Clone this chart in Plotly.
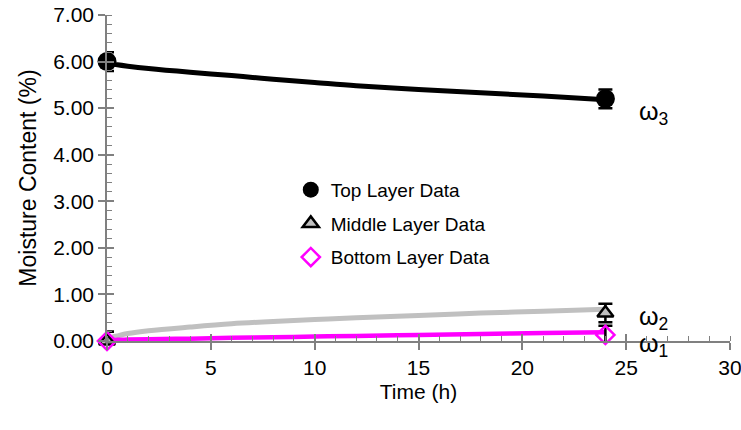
import plotly.graph_objects as go

# Measured data points
t_data = [0, 24]
top_data = [6.00, 5.20]
mid_data = [0.00, 0.60]
bot_data = [0.00, 0.13]
err_top = [0.20, 0.20]
err_mid = [0.20, 0.20]
err_bot = [0.20, 0.20]

# Model curves
t_curve = [0, 0.25, 0.5, 1, 2, 4, 6, 8, 10, 12, 15, 18, 21, 24]
top_curve = [6.00, 5.95, 5.93, 5.90, 5.85, 5.77, 5.70, 5.62, 5.55, 5.48, 5.40, 5.33, 5.26, 5.18]
mid_curve = [0.00, 0.08, 0.11, 0.16, 0.22, 0.30, 0.37, 0.42, 0.46, 0.50, 0.55, 0.60, 0.64, 0.68]
bot_curve = [0.00, 0.02, 0.025, 0.03, 0.04, 0.05, 0.07, 0.08, 0.095, 0.11, 0.13, 0.15, 0.17, 0.19]

x_ticks = [0, 5, 10, 15, 20, 25, 30]
y_ticks = [0, 1, 2, 3, 4, 5, 6, 7]

FONT = "Liberation Sans, Arial, sans-serif"

fig = go.Figure()

fig.add_trace(go.Scatter(x=t_curve, y=mid_curve, mode="lines", line=dict(color="#C0C0C0", width=5, shape="spline"),
                         showlegend=False, hoverinfo="skip"))
fig.add_trace(go.Scatter(x=t_curve, y=bot_curve, mode="lines", line=dict(color="#FF00FF", width=4.5, shape="spline"),
                         showlegend=False, hoverinfo="skip"))
fig.add_trace(go.Scatter(x=t_curve, y=top_curve, mode="lines", line=dict(color="black", width=5, shape="spline"),
                         showlegend=False, hoverinfo="skip"))

fig.add_trace(go.Scatter(x=t_data, y=top_data, mode="markers", name="Top Layer Data", legendgroup="a",
                         marker=dict(symbol="circle", size=19, color="black"),
                         error_y=dict(type="data", array=err_top, color="black", thickness=2.5, width=7),
                         cliponaxis=False))
fig.add_trace(go.Scatter(x=t_data, y=mid_data, mode="markers", name="Middle Layer Data", legendgroup="b",
                         marker=dict(symbol="triangle-up", size=14, color="#C0C0C0", line=dict(color="black", width=2.5)),
                         error_y=dict(type="data", array=err_mid, color="black", thickness=2.5, width=7),
                         cliponaxis=False))
fig.add_trace(go.Scatter(x=t_data, y=bot_data, mode="markers", name="Bottom Layer Data", legendgroup="c",
                         marker=dict(symbol="diamond-open", size=14, color="#FF00FF", line=dict(color="#FF00FF", width=2.5)),
                         error_y=dict(type="data", array=err_bot, color="black", thickness=2.5, width=7),
                         cliponaxis=False))

# invisible trace on overlay axes so inward major ticks are drawn (crossing tick style)
fig.add_trace(go.Scatter(x=[None], y=[None], xaxis="x2", yaxis="y2", showlegend=False, hoverinfo="skip"))

ann = [("ω<sub>3</sub>", 5.2, -14), ("ω<sub>2</sub>", 0.0, 23), ("ω<sub>1</sub>", 0.0, -4)]
for txt, yv, ys in ann:
    fig.add_annotation(x=25.5, y=yv, yshift=ys, text=txt, showarrow=False, xanchor="left", yanchor="middle",
                       font=dict(family=FONT, size=25, color="black"))

fig.update_layout(
    width=741, height=430,
    margin=dict(l=107, r=11, t=15, b=89),
    paper_bgcolor="white", plot_bgcolor="white",
    font=dict(family=FONT, size=21, color="black"),
    legend=dict(x=0.295, y=0.522, xanchor="left", yanchor="top", bgcolor="rgba(0,0,0,0)",
                font=dict(family=FONT, size=19, color="black"), tracegroupgap=6, itemwidth=30),
    showlegend=True,
    xaxis2=dict(overlaying="x", range=[0, 30], side="bottom", tickvals=x_ticks, showticklabels=False,
                ticks="inside", ticklen=7, tickcolor="#808080", tickwidth=1.5, showgrid=False, zeroline=False,
                showline=False, automargin=False),
    yaxis2=dict(overlaying="y", range=[0, 7], side="left", tickvals=y_ticks, showticklabels=False,
                ticks="inside", ticklen=7, tickcolor="#808080", tickwidth=1.5, showgrid=False, zeroline=False,
                showline=False, automargin=False),
)

fig.update_xaxes(selector=dict(anchor="y"))
fig.layout.xaxis.update(range=[0, 30], tickvals=x_ticks, ticktext=[str(v) for v in x_ticks], automargin=False,
                        ticklabeloverflow="allow",
                        showgrid=False, zeroline=False, showline=True, linecolor="#808080", linewidth=1.5,
                        ticks="outside", ticklen=7, tickcolor="#808080", tickwidth=1.5,
                        minor=dict(ticks="inside", dtick=1, ticklen=5, tickcolor="#808080", tickwidth=1),
                        title=dict(text="Time (h)", font=dict(family=FONT, size=21), standoff=6),
                        tickfont=dict(family=FONT, size=21))
fig.layout.yaxis.update(range=[0, 7], tickvals=y_ticks, ticktext=[f"{v:.2f}" for v in y_ticks], automargin=False,
                        ticklabeloverflow="allow",
                        showgrid=False, zeroline=False, showline=True, linecolor="#808080", linewidth=1.5,
                        ticks="outside", ticklen=7, tickcolor="#808080", tickwidth=1.5,
                        minor=dict(ticks="inside", dtick=0.2, ticklen=5, tickcolor="#808080", tickwidth=1),
                        title=dict(text="Moisture Content (%)", font=dict(family=FONT, size=23), standoff=10),
                        tickfont=dict(family=FONT, size=21))

fig.write_html("out.html")
